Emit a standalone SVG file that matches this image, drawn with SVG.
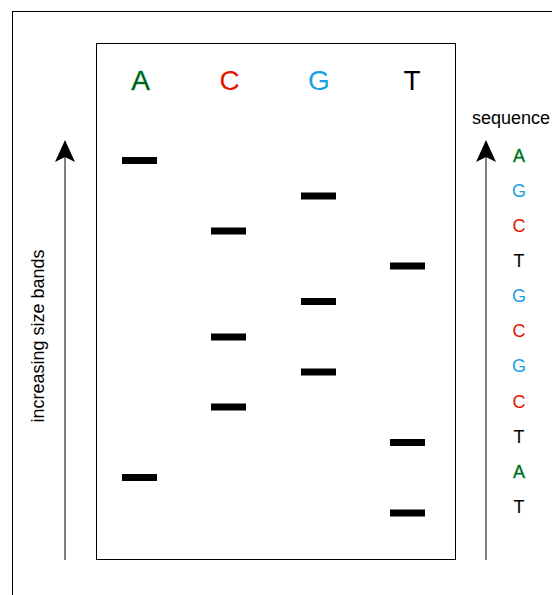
<svg xmlns="http://www.w3.org/2000/svg" width="552" height="595" viewBox="0 0 552 595">
<style>
text{font-family:"Liberation Sans",Arial,sans-serif;}
.col{font-size:28px;text-anchor:middle;}
.seq{font-size:18px;text-anchor:middle;}
.a{fill:#004d14;stroke:#00a844;stroke-width:0.45px;}
.c{fill:#e51400;}
.g{fill:#1ba1e2;}
.t{fill:#000000;}
.band{fill:#000000;}
.frame{fill:none;stroke:#000000;stroke-width:1;}
.axis{stroke:#000000;stroke-width:1;fill:none;}
.head{fill:#000000;stroke:none;}
</style>
<rect class="frame" x="12.5" y="11.5" width="600" height="600"/>
<g id="gel">
<rect class="frame" x="96.5" y="43.5" width="359" height="516"/>
</g>
<g id="labels">
<text class="col a" x="140.5" y="90">A</text>
<text class="col c" x="229.5" y="90">C</text>
<text class="col g" x="319" y="90">G</text>
<text class="col t" x="412" y="90">T</text>
</g>
<g id="bands">
<rect class="band" x="122" y="157" width="35" height="7"/>
<rect class="band" x="301" y="192.5" width="35" height="7"/>
<rect class="band" x="211" y="227.5" width="35" height="7"/>
<rect class="band" x="390" y="262.5" width="35" height="7"/>
<rect class="band" x="301" y="298" width="35" height="7"/>
<rect class="band" x="211" y="333.5" width="35" height="7"/>
<rect class="band" x="301" y="368.5" width="35" height="7"/>
<rect class="band" x="211" y="403.5" width="35" height="7"/>
<rect class="band" x="390" y="439" width="35" height="7"/>
<rect class="band" x="122" y="474" width="35" height="7"/>
<rect class="band" x="390" y="509.5" width="35" height="7"/>
</g>
<g id="connectors">
<line class="axis" x1="65" y1="560" x2="65" y2="156"/>
<path class="head" d="M65,140 L75,162 L65,157 L55,162 Z"/>
<line class="axis" x1="486" y1="560" x2="486" y2="156"/>
<path class="head" d="M486,140 L496,162 L486,157 L476,162 Z"/>
</g>
<g id="axis-label">
<text style="font-size:18px;" text-anchor="middle" transform="translate(44,336) rotate(-90)">increasing size bands</text>
</g>
<g id="sequence">
<text style="font-size:18px;" x="511" y="124" text-anchor="middle">sequence</text>
<text class="seq a" x="519" y="161.5">A</text>
<text class="seq g" x="519" y="196.5">G</text>
<text class="seq c" x="519" y="231.5">C</text>
<text class="seq t" x="519" y="266.5">T</text>
<text class="seq g" x="519" y="301.5">G</text>
<text class="seq c" x="519" y="337">C</text>
<text class="seq g" x="519" y="372">G</text>
<text class="seq c" x="519" y="407.5">C</text>
<text class="seq t" x="519" y="442.5">T</text>
<text class="seq a" x="519" y="477.5">A</text>
<text class="seq t" x="519" y="513">T</text>
</g>
</svg>
